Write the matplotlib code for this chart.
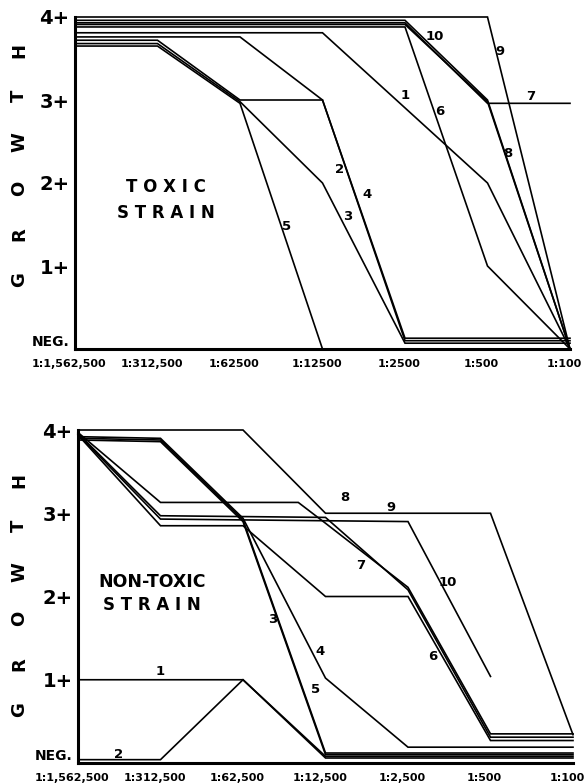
import matplotlib
matplotlib.use("Agg")
import matplotlib.pyplot as plt

# dilution columns 0..6 on the x axis
toxic_xlabels = ["1:1,562,500", "1:312,500", "1:62500", "1:12500", "1:2500", "1:500", "1:100"]
nontoxic_xlabels = ["1:1,562,500", "1:312,500", "1:62,500", "1:12,500", "1:2,500", "1:500", "1:100"]
growth_labels = ["NEG.", "1+", "2+", "3+", "4+"]

# toxic strain, one entry per culture
toxic_ids = ["1", "2", "3", "4", "5", "6", "7", "8", "9", "10"]
toxic_x = [
    [0, 3, 5, 6],
    [0, 1, 2, 3, 4, 6],
    [0, 1, 2, 3, 4, 6],
    [0, 2, 3, 4, 6],
    [0, 1, 2, 3],
    [0, 4, 5, 6],
    [0, 4, 5, 6],
    [0, 4, 5, 6],
    [0, 5, 6],
    [0, 4, 5, 6],
]
toxic_y = [
    [3.81, 3.81, 2.0, 0.0],
    [3.72, 3.72, 3.0, 3.0, 0.1, 0.1],
    [3.68, 3.68, 2.98, 2.0, 0.07, 0.07],
    [3.76, 3.76, 3.0, 0.13, 0.13],
    [3.65, 3.65, 2.96, 0.0],
    [3.88, 3.88, 1.0, 0.0],
    [3.93, 3.93, 2.96, 2.96],
    [3.91, 3.91, 2.98, 0.0],
    [4.0, 4.0, 0.0],
    [3.96, 3.96, 3.0, 0.0],
]
toxic_tag_x = [4.0, 3.21, 3.3, 3.54, 2.57, 4.42, 5.52, 5.25, 5.15, 4.36]
toxic_tag_y = [3.05, 2.16, 1.6, 1.86, 1.48, 2.86, 3.04, 2.36, 3.58, 3.76]

# non-toxic strain
nontoxic_ids = ["1", "2", "3", "4", "5", "6", "7", "8", "9", "10"]
nontoxic_x = [
    [0, 2, 3, 6],
    [0, 1, 2, 3, 6],
    [0, 1, 2, 3, 6],
    [0, 1, 2, 3, 4, 6],
    [0, 1, 2, 3, 6],
    [0, 1, 2, 3, 4, 5, 6],
    [0, 1, 3, 4, 5, 6],
    [0, 1, 2.67, 3, 4, 5, 6],
    [0, 2, 3, 5, 6],
    [0, 1, 4, 5],
]
nontoxic_y = [
    [1.0, 1.0, 0.08, 0.08],
    [0.04, 0.04, 1.0, 0.06, 0.06],
    [3.9, 3.88, 2.92, 0.12, 0.12],
    [3.92, 3.9, 2.94, 1.02, 0.19, 0.19],
    [3.88, 3.86, 2.9, 0.1, 0.1],
    [3.94, 2.85, 2.85, 2.0, 2.0, 0.27, 0.27],
    [3.96, 2.97, 2.95, 2.08, 0.31, 0.31],
    [3.97, 3.13, 3.13, 2.88, 2.11, 0.35, 0.35],
    [4.0, 4.0, 3.0, 3.0, 0.34],
    [3.95, 2.93, 2.9, 1.04],
]
nontoxic_tag_x = [1.0, 0.49, 2.36, 2.94, 2.88, 4.3, 3.43, 3.24, 3.79, 4.48]
nontoxic_tag_y = [1.1, 0.1, 1.72, 1.34, 0.88, 1.28, 2.37, 3.19, 3.07, 2.17]

W, H = 585, 784
fig = plt.figure(figsize=(W / 100, H / 100), dpi=100)
fig.patch.set_facecolor("white")

ax1 = fig.add_axes([75 / W, 1 - 349 / H, (570 - 75) / W, (349 - 17) / H])
ax2 = fig.add_axes([78 / W, 1 - 763 / H, (573 - 78) / W, (763 - 430) / H])


def draw(ax, xs, ys, ids, tx, ty, xlabels):
    for x, y in zip(xs, ys):
        ax.plot(x, y, color="black", lw=1.2, clip_on=False, solid_joinstyle="miter")
    for t, a, b in zip(ids, tx, ty):
        ax.text(a, b, t, fontsize=9.5, fontweight="bold", ha="center", va="center")
    ax.set_xlim(0, 6)
    ax.set_ylim(0, 4)
    # dilution labels, a few pixels left of each column as in the scan
    ax.set_xticks([])
    for i, lab in enumerate(xlabels):
        ax.text(i - 0.07, -0.045, lab, transform=ax.get_xaxis_transform(),
                fontsize=8, fontweight="bold", ha="center", va="center", clip_on=False)
    ax.set_yticks(range(5))
    ax.set_yticklabels(growth_labels, fontsize=14, fontweight="black")
    ax.get_yticklabels()[0].set_fontsize(10)
    ax.get_yticklabels()[0].set_va("bottom")
    ax.tick_params(length=0, pad=4)
    for s in ["top", "right"]:
        ax.spines[s].set_visible(False)
    for s in ["left", "bottom"]:
        ax.spines[s].set_linewidth(2.2)
    ax.set_facecolor("none")


draw(ax1, toxic_x, toxic_y, toxic_ids, toxic_tag_x, toxic_tag_y, toxic_xlabels)
draw(ax2, nontoxic_x, nontoxic_y, nontoxic_ids, nontoxic_tag_x, nontoxic_tag_y, nontoxic_xlabels)

ax1.text(1.1, 1.95, "T O X I C", fontsize=12, fontweight="bold", ha="center", va="center")
ax1.text(1.1, 1.64, "S T R A I N", fontsize=12, fontweight="bold", ha="center", va="center")
ax2.text(0.9, 2.17, "NON-TOXIC", fontsize=12.5, fontweight="bold", ha="center", va="center")
ax2.text(0.9, 1.9, "S T R A I N", fontsize=12, fontweight="bold", ha="center", va="center")

# rotated, widely spaced axis titles
for cy in (165, 595):
    for i, ch in enumerate("GROWTH"):
        yy = cy + (2.5 - i) * 46
        fig.text(19 / W, 1 - yy / H, ch, rotation=90, fontsize=13, fontweight="black",
                 ha="center", va="center")

fig.savefig("out.png", dpi=100, facecolor="white")
